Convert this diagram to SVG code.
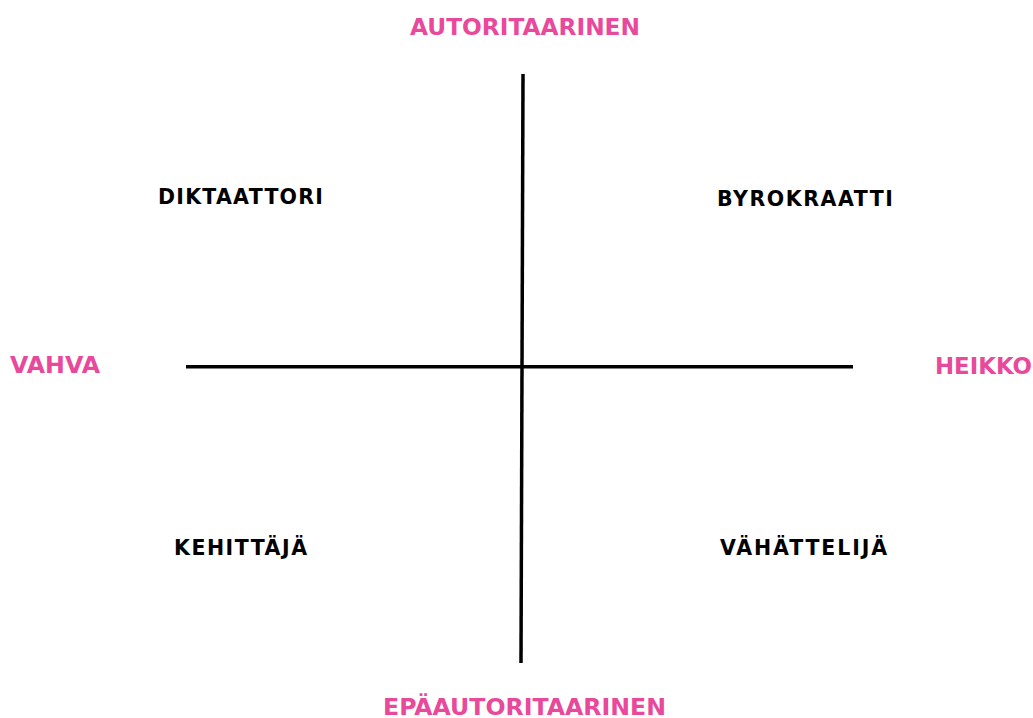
<svg xmlns="http://www.w3.org/2000/svg" width="1033" height="718" viewBox="0 0 1033 718">
  <style>
    .axis { fill: #E8499B; font-family: "DejaVu Sans", "Liberation Sans", sans-serif; font-weight: bold; font-size: 23px; }
    .quad { fill: #000000; font-family: "DejaVu Sans", "Liberation Sans", sans-serif; font-weight: bold; font-size: 20.5px; }
    .line { stroke: #000000; stroke-width: 3.5; fill: none; }
  </style>
  <rect width="1033" height="718" fill="#ffffff"/>
  <g id="connectors">
    <line class="line" x1="523" y1="74" x2="521" y2="663"/>
    <line class="line" x1="186" y1="366.7" x2="853" y2="366.7"/>
  </g>
  <g id="axis-top"><text class="axis" x="410" y="35" textLength="230" lengthAdjust="spacingAndGlyphs">AUTORITAARINEN</text></g>
  <g id="axis-bottom"><text class="axis" x="383" y="715" textLength="283" lengthAdjust="spacingAndGlyphs">EPÄAUTORITAARINEN</text></g>
  <g id="axis-left"><text class="axis" x="10" y="373" textLength="90" lengthAdjust="spacingAndGlyphs">VAHVA</text></g>
  <g id="axis-right"><text class="axis" x="935" y="374" textLength="97" lengthAdjust="spacingAndGlyphs">HEIKKO</text></g>
  <g id="q-diktaattori"><text class="quad" x="158" y="204" textLength="165" lengthAdjust="spacing">DIKTAATTORI</text></g>
  <g id="q-byrokraatti"><text class="quad" x="717" y="206" textLength="176" lengthAdjust="spacing">BYROKRAATTI</text></g>
  <g id="q-kehittaja"><text class="quad" x="174" y="555" textLength="133" lengthAdjust="spacing">KEHITTÄJÄ</text></g>
  <g id="q-vahattelija"><text class="quad" x="720" y="555" textLength="167" lengthAdjust="spacing">VÄHÄTTELIJÄ</text></g>
</svg>
